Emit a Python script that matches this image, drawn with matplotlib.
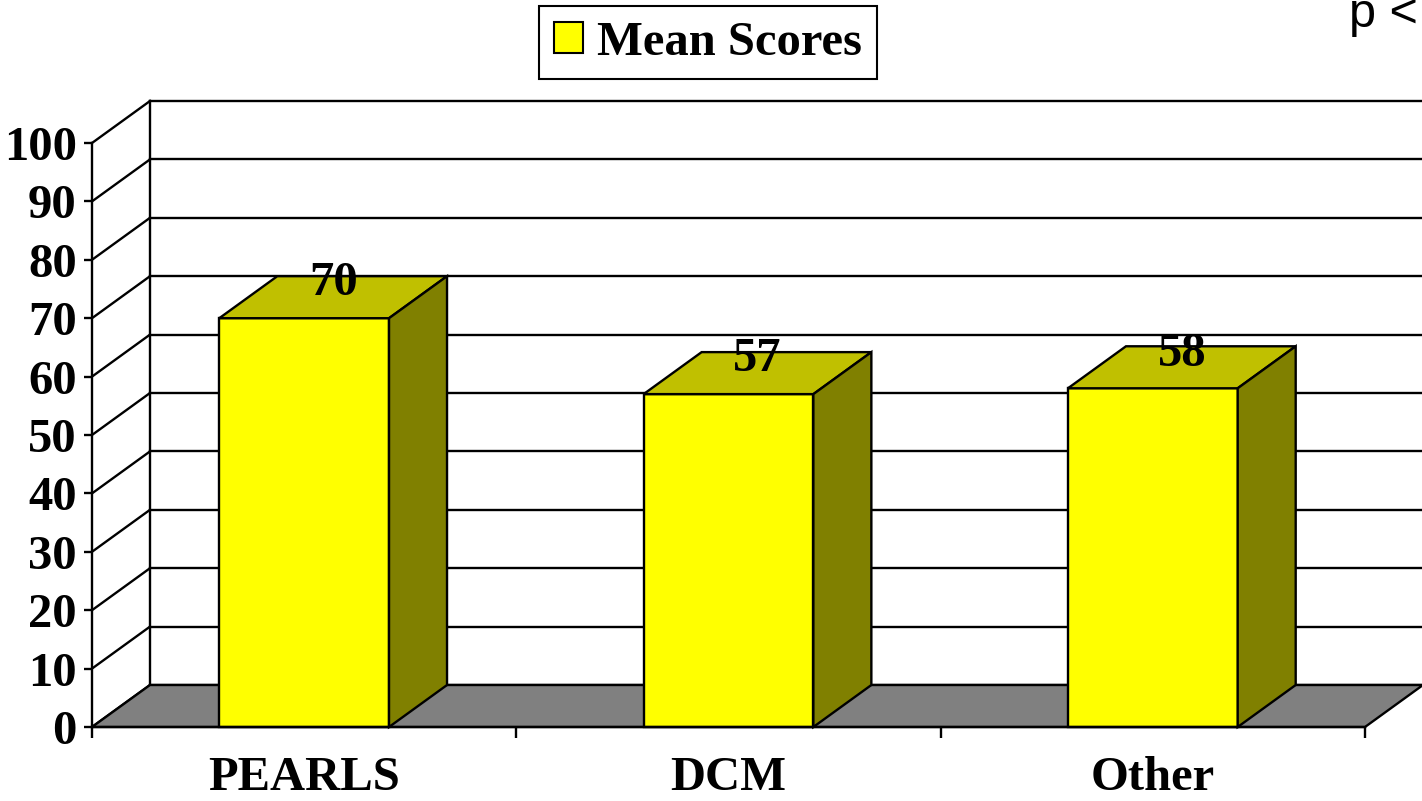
import matplotlib
matplotlib.use("Agg")
import matplotlib.pyplot as plt
from matplotlib.patches import Polygon, Patch

# ---- data ----
categories = ["PEARLS", "DCM", "Other"]
mean_scores = [70, 57, 58]
y_ticks = [0, 10, 20, 30, 40, 50, 60, 70, 80, 90, 100]
legend_label = "Mean Scores"
corner_note = "p <"

# ---- style ----
FRONT = "#FFFF00"
TOP = "#C0C000"
SIDE = "#808000"
FLOOR = "#808080"
SERIF = "Liberation Serif"
FS = 35

W, H, DPI = 1422, 801, 100
fig = plt.figure(figsize=(W / DPI, H / DPI), dpi=DPI)
fig.patch.set_facecolor("white")

# axes = front plane of the 3-D box
x0_px, x1_px, y0_px, y1_px = 92, 1365, 727, 143
ax = fig.add_axes([x0_px / W, 1 - y0_px / H, (x1_px - x0_px) / W, (y0_px - y1_px) / H])
n = len(categories)
ax.set_xlim(-0.5, n - 0.5)
ax.set_ylim(0, 100)
ax.set_facecolor("none")

# depth offset (expressed in data units)
px_per_cat = (x1_px - x0_px) / n
px_per_val = (y0_px - y1_px) / 100
DX = 58 / px_per_cat
DY = 42 / px_per_val

xl, xr = -0.5, n - 0.5
lw = 1.7

# floor
ax.add_patch(Polygon([(xl, 0), (xr, 0), (xr + DX, DY), (xl + DX, DY)], closed=True,
                     facecolor=FLOOR, edgecolor="black", lw=lw, clip_on=False, zorder=1))
# back wall gridlines and left wall diagonals
for v in y_ticks:
    ax.plot([xl + DX, xr + DX], [v + DY, v + DY], color="black", lw=lw, clip_on=False, zorder=0.5)
    ax.plot([xl, xl + DX], [v, v + DY], color="black", lw=lw, clip_on=False, zorder=0.5)
ax.plot([xl + DX, xl + DX], [DY, 100 + DY], color="black", lw=lw, clip_on=False, zorder=0.5)

# bars
bw = 0.4
for i, v in enumerate(mean_scores):
    L, R = i - bw / 2, i + bw / 2
    ax.add_patch(Polygon([(L, 0), (R, 0), (R, v), (L, v)], closed=True,
                         facecolor=FRONT, edgecolor="black", lw=lw, clip_on=False, zorder=3))
    ax.add_patch(Polygon([(L, v), (R, v), (R + DX, v + DY), (L + DX, v + DY)], closed=True,
                         facecolor=TOP, edgecolor="black", lw=lw, clip_on=False, zorder=3))
    ax.add_patch(Polygon([(R, 0), (R + DX, DY), (R + DX, v + DY), (R, v)], closed=True,
                         facecolor=SIDE, edgecolor="black", lw=lw, clip_on=False, zorder=3))
    ax.text(i + DX / 2, v + DY / 2 + 0.3, str(v), ha="center", va="baseline",
            fontsize=FS, fontweight="bold", family=SERIF, zorder=5)

# axes / ticks
for s in ("top", "right"):
    ax.spines[s].set_visible(False)
for s in ("left", "bottom"):
    ax.spines[s].set_linewidth(lw)
    ax.spines[s].set_zorder(4)
ax.set_yticks(y_ticks)
ax.set_yticklabels([str(t) for t in y_ticks], fontsize=FS, fontweight="bold", family=SERIF)
ax.tick_params(axis="y", length=6, width=lw, pad=5)
ax.set_xticks(range(n))
ax.set_xticklabels(categories, fontsize=FS, fontweight="bold", family=SERIF)
ax.set_xticks([k - 0.5 for k in range(n + 1)], minor=True)
ax.tick_params(axis="x", which="major", length=0, pad=21)
ax.tick_params(axis="x", which="minor", length=8, width=lw)

# legend
leg = fig.legend(handles=[Patch(facecolor=FRONT, edgecolor="black", lw=1.5, label=legend_label)],
                 loc="upper center", bbox_to_anchor=(708 / W, 1 - 6 / H), borderaxespad=0,
                 prop={"family": SERIF, "weight": "bold", "size": FS},
                 handlelength=0.6, handleheight=0.6, handletextpad=0.3,
                 borderpad=0.3, fancybox=False, framealpha=1, edgecolor="black")
leg.get_frame().set_linewidth(1.5)

fig.text(1349 / W, 1 - 27 / H, corner_note, family="Liberation Sans", fontsize=FS,
         ha="left", va="baseline")

fig.savefig("out.png", dpi=DPI)
